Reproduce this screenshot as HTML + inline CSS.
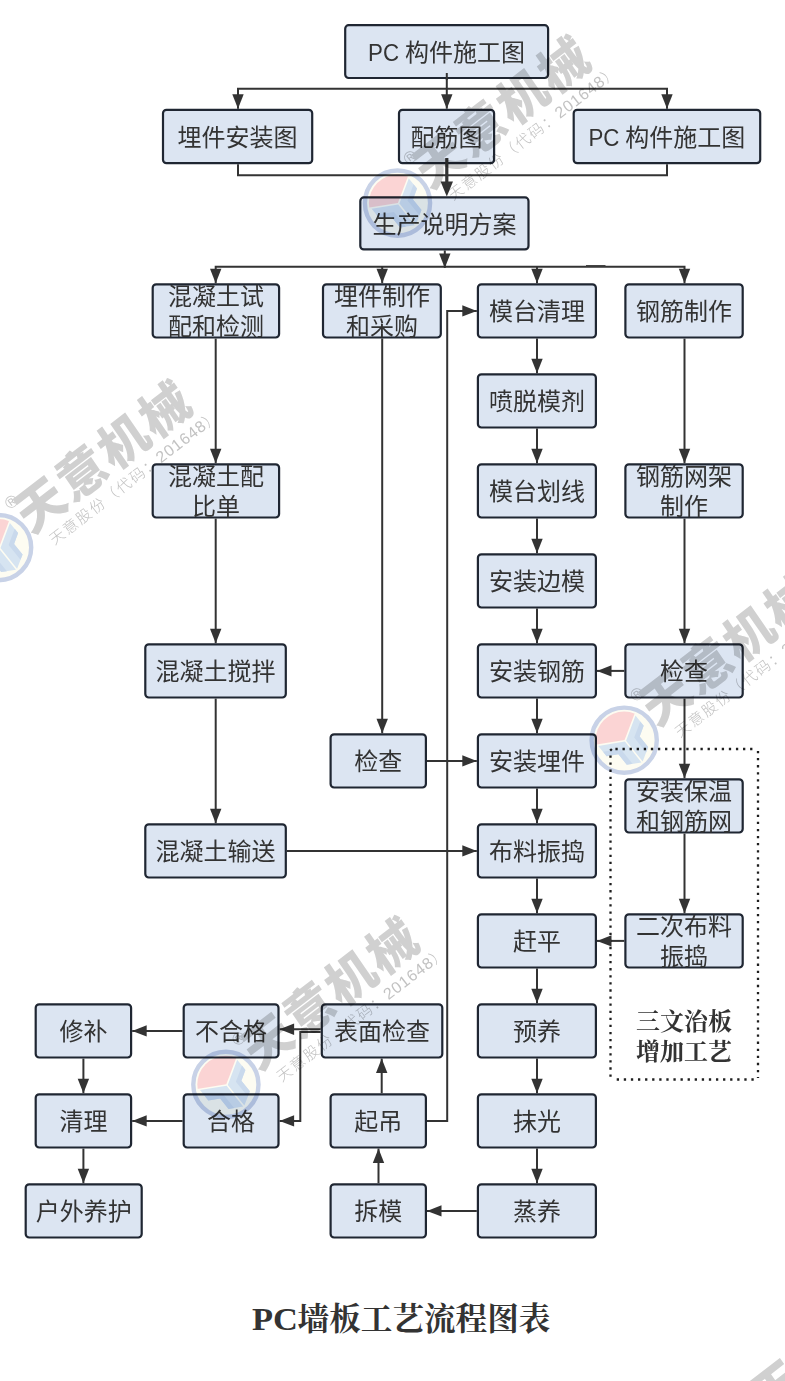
<!DOCTYPE html>
<html lang="zh-CN"><head><meta charset="utf-8"><title>PC墙板工艺流程图表</title>
<style>
html,body{margin:0;padding:0;background:#fff}
body{width:785px;height:1381px;overflow:hidden}
svg{display:block}
.bx rect{fill:#dce5f2;stroke:#1f2632;stroke-width:2.2}
.ln polyline{fill:none;stroke:#333;stroke-width:2;stroke-linejoin:miter}
.ar polygon{fill:#333}
.tx text{font-family:"Liberation Sans","Noto Sans CJK SC",sans-serif;font-size:24px;fill:#333;text-anchor:middle}
.sf{opacity:.999;font-family:"Liberation Serif","Noto Serif CJK SC",serif;font-weight:bold;fill:#333;text-anchor:middle}
.wm .big{font-family:"Liberation Sans","Noto Sans CJK SC",sans-serif;font-weight:900;font-size:50px;letter-spacing:2.2px;fill:#d0d0d0}
.wm .sm{font-family:"Liberation Sans","Noto Sans CJK SC",sans-serif;font-weight:300;font-size:15px;letter-spacing:1.8px;fill:#c2c2c2}
.wm .dg{font-size:16px;letter-spacing:.9px}
.wm .rg{font-family:"Liberation Sans",sans-serif;font-size:17px;fill:#c8c8c8}
</style></head><body>
<svg width="785" height="1381" viewBox="0 0 785 1381">
<defs>
<clipPath id="lc"><circle r="28.6"/></clipPath>
<g id="logo">
<circle r="32.6" fill="#fdfcf2" stroke="#c8d2e7" stroke-width="4.4"/>
<g clip-path="url(#lc)">
<polygon points="0.4,-0.1 14.2,-36.7 -10.0,-45.0 -45.0,-30.0 -38.2,6.0" fill="#fbd4d4"/>
<polygon points="1.9,0.5 11.3,-24.7 19.5,-14.5 15.5,-3.7 24.0,6.8 18.5,21.2" fill="#d6e4f1"/>
<polygon points="16.1,-18.8 19.5,-14.5 15.5,-3.7 24.0,6.8 21.9,12.2 10.0,-2.6" fill="#c9d9ec"/>
<polygon points="0.7,1.4 -25.9,5.7 -17.6,16.0 -5.8,14.1 2.6,24.5 17.3,22.2" fill="#d6e4f1"/>
<polygon points="-21.1,11.6 -17.6,16.0 -5.8,14.1 2.6,24.5 8.3,23.6 -3.6,8.8" fill="#c9d9ec"/>
</g>
</g>
</defs>

<g class="ln">
<polyline points="446.8,73 446.8,108.7"/>
<polyline points="446.8,88.7 238,88.7 238,108.7"/>
<polyline points="446.8,88.7 667,88.7 667,108.7"/>
<polyline points="238,164.3 238,175.3 667,175.3 667,164.3"/>
<polyline points="444.8,250.5 444.8,268"/>
<polyline points="215.7,283.2 215.7,266.7 684.5,266.7 684.5,283.2"/>
<polyline points="382.2,266.7 382.2,283.2"/>
<polyline points="537,266.7 537,283.2"/>
<polyline points="215.7,338.59999999999997 215.7,463.2"/>
<polyline points="215.7,518.6 215.7,643.1999999999999"/>
<polyline points="215.7,698.6 215.7,823.1999999999999"/>
<polyline points="286.9,850.9 476.8,850.9"/>
<polyline points="382.2,338.59999999999997 382.2,733.1999999999999"/>
<polyline points="427,760.9 476.8,760.9"/>
<polyline points="684.5,338.59999999999997 684.5,463.2"/>
<polyline points="684.5,518.6 684.5,643.1999999999999"/>
<polyline points="684.5,698.6 684.5,778.1999999999999"/>
<polyline points="684.5,833.6 684.5,913.1999999999999"/>
<polyline points="624.3,670.9 597,670.9"/>
<polyline points="624.3,940.9 597,940.9"/>
<polyline points="476.8,1210.9 427,1210.9"/>
<polyline points="378.5,1183.2 378.5,1148.6000000000001"/>
<polyline points="381.7,1093.2 381.7,1058.6000000000001"/>
<polyline points="427,1120.9 447.2,1120.9 447.2,310.9 476.8,310.9"/>
<polyline points="320.7,1029.3000000000002 279.6,1029.3000000000002"/>
<polyline points="320.7,1031.9 300.3,1031.9 300.3,1120.9 279.6,1120.9"/>
<polyline points="182.6,1030.9 132.2,1030.9"/>
<polyline points="182.6,1120.9 132.2,1120.9"/>
<polyline points="83.4,1058.6000000000001 83.4,1093.2"/>
<polyline points="83.4,1148.6000000000001 83.4,1183.2"/>
<polyline points="537,338.59999999999997 537,373.2"/>
<polyline points="537,428.59999999999997 537,463.2"/>
<polyline points="537,518.6 537,553.1999999999999"/>
<polyline points="537,608.6 537,643.1999999999999"/>
<polyline points="537,698.6 537,733.1999999999999"/>
<polyline points="537,788.6 537,823.1999999999999"/>
<polyline points="537,878.6 537,913.1999999999999"/>
<polyline points="537,968.6 537,1003.2"/>
<polyline points="537,1058.6000000000001 537,1093.2"/>
<polyline points="537,1148.6000000000001 537,1183.2"/>
</g>
<g fill="none" stroke="#1e1e1e" stroke-width="2.3" stroke-dasharray="2.3 4.79"><path d="M615.4,749 H756"/><path d="M610.5,755.4 V1078"/><path d="M610.2,750.6 L611.9,749.0"/><path d="M758,750.9 V1078"/><path d="M616.7,1079.5 H756"/></g>
<g class="bx">
<rect x="345.2" y="25.2" width="202.9" height="52.8" rx="3.5"/>
<rect x="163.0" y="109.8" width="149.2" height="53.4" rx="3.5"/>
<rect x="399.0" y="109.8" width="95.1" height="53.4" rx="3.5"/>
<rect x="573.7" y="109.8" width="186.5" height="53.4" rx="3.5"/>
<rect x="360.3" y="197.4" width="168.2" height="52.0" rx="3.5"/>
<rect x="152.7" y="284.3" width="126.4" height="53.2" rx="3.5"/>
<rect x="323.0" y="284.3" width="117.8" height="53.2" rx="3.5"/>
<rect x="477.9" y="284.3" width="118.0" height="53.2" rx="3.5"/>
<rect x="625.4" y="284.3" width="117.3" height="53.2" rx="3.5"/>
<rect x="477.9" y="374.3" width="118.0" height="53.2" rx="3.5"/>
<rect x="477.9" y="464.3" width="118.0" height="53.2" rx="3.5"/>
<rect x="477.9" y="554.3" width="118.0" height="53.2" rx="3.5"/>
<rect x="477.9" y="644.3" width="118.0" height="53.2" rx="3.5"/>
<rect x="477.9" y="734.3" width="118.0" height="53.2" rx="3.5"/>
<rect x="477.9" y="824.3" width="118.0" height="53.2" rx="3.5"/>
<rect x="477.9" y="914.3" width="118.0" height="53.2" rx="3.5"/>
<rect x="477.9" y="1004.3" width="118.0" height="53.2" rx="3.5"/>
<rect x="477.9" y="1094.3" width="118.0" height="53.2" rx="3.5"/>
<rect x="477.9" y="1184.3" width="118.0" height="53.2" rx="3.5"/>
<rect x="625.4" y="464.3" width="117.3" height="53.2" rx="3.5"/>
<rect x="625.4" y="644.3" width="117.3" height="53.2" rx="3.5"/>
<rect x="625.4" y="779.3" width="117.3" height="53.2" rx="3.5"/>
<rect x="625.4" y="914.3" width="117.3" height="53.2" rx="3.5"/>
<rect x="152.7" y="464.3" width="126.4" height="53.2" rx="3.5"/>
<rect x="145.3" y="644.3" width="140.5" height="53.2" rx="3.5"/>
<rect x="145.3" y="824.3" width="140.5" height="53.2" rx="3.5"/>
<rect x="330.6" y="734.3" width="95.3" height="53.2" rx="3.5"/>
<rect x="321.8" y="1004.3" width="120.5" height="53.2" rx="3.5"/>
<rect x="330.6" y="1094.3" width="95.3" height="53.2" rx="3.5"/>
<rect x="330.6" y="1184.3" width="95.3" height="53.2" rx="3.5"/>
<rect x="183.7" y="1004.3" width="94.8" height="53.2" rx="3.5"/>
<rect x="183.7" y="1094.3" width="94.8" height="53.2" rx="3.5"/>
<rect x="35.7" y="1004.3" width="95.4" height="53.2" rx="3.5"/>
<rect x="35.7" y="1094.3" width="95.4" height="53.2" rx="3.5"/>
<rect x="25.7" y="1184.3" width="116.0" height="53.2" rx="3.5"/>
</g>
<g class="ar">
<polygon points="446.8,108.7 441.1,94.2 452.5,94.2"/>
<polygon points="238.0,108.7 232.3,94.2 243.7,94.2"/>
<polygon points="667.0,108.7 661.3,94.2 672.7,94.2"/>
<polygon points="444.8,268.0 439.1,253.5 450.5,253.5"/>
<polygon points="684.5,283.2 678.8,268.7 690.2,268.7"/>
<polygon points="215.7,283.2 210.0,268.7 221.4,268.7"/>
<polygon points="382.2,283.2 376.5,268.7 387.9,268.7"/>
<polygon points="537.0,283.2 531.3,268.7 542.7,268.7"/>
<polygon points="215.7,463.2 210.0,448.7 221.4,448.7"/>
<polygon points="215.7,643.2 210.0,628.7 221.4,628.7"/>
<polygon points="215.7,823.2 210.0,808.7 221.4,808.7"/>
<polygon points="476.8,850.9 462.3,856.6 462.3,845.2"/>
<polygon points="382.2,733.2 376.5,718.7 387.9,718.7"/>
<polygon points="476.8,760.9 462.3,766.6 462.3,755.2"/>
<polygon points="684.5,463.2 678.8,448.7 690.2,448.7"/>
<polygon points="684.5,643.2 678.8,628.7 690.2,628.7"/>
<polygon points="684.5,778.2 678.8,763.7 690.2,763.7"/>
<polygon points="684.5,913.2 678.8,898.7 690.2,898.7"/>
<polygon points="597.0,670.9 611.5,665.2 611.5,676.6"/>
<polygon points="597.0,940.9 611.5,935.2 611.5,946.6"/>
<polygon points="427.0,1210.9 441.5,1205.2 441.5,1216.6"/>
<polygon points="378.5,1148.6 384.2,1163.1 372.8,1163.1"/>
<polygon points="381.7,1058.6 387.4,1073.1 376.0,1073.1"/>
<polygon points="476.8,310.9 462.3,316.6 462.3,305.2"/>
<polygon points="279.6,1029.3 294.1,1023.6 294.1,1035.0"/>
<polygon points="279.6,1120.9 294.1,1115.2 294.1,1126.6"/>
<polygon points="132.2,1030.9 146.7,1025.2 146.7,1036.6"/>
<polygon points="132.2,1120.9 146.7,1115.2 146.7,1126.6"/>
<polygon points="83.4,1093.2 77.7,1078.7 89.1,1078.7"/>
<polygon points="83.4,1183.2 77.7,1168.7 89.1,1168.7"/>
<polygon points="537.0,373.2 531.3,358.7 542.7,358.7"/>
<polygon points="537.0,463.2 531.3,448.7 542.7,448.7"/>
<polygon points="537.0,553.2 531.3,538.7 542.7,538.7"/>
<polygon points="537.0,643.2 531.3,628.7 542.7,628.7"/>
<polygon points="537.0,733.2 531.3,718.7 542.7,718.7"/>
<polygon points="537.0,823.2 531.3,808.7 542.7,808.7"/>
<polygon points="537.0,913.2 531.3,898.7 542.7,898.7"/>
<polygon points="537.0,1003.2 531.3,988.7 542.7,988.7"/>
<polygon points="537.0,1093.2 531.3,1078.7 542.7,1078.7"/>
<polygon points="537.0,1183.2 531.3,1168.7 542.7,1168.7"/>
</g>
<path d="M586,265.7 H605.5" stroke="#444" stroke-width="1.4" fill="none"/>
<g class="ln"><polyline points="446.8,73 446.8,80"/><polyline points="446.8,158 446.8,190" style="stroke-width:3.2"/></g>
<g class="ar"><polygon points="446.8,196.6 440.6,181.4 453,181.4"/></g>
<g class="tx" opacity=".999">
<text transform="translate(368.1,60.9) scale(.93,1.02)" style="text-anchor:start">PC</text>
<text x="405.0" y="60.9" style="text-anchor:start">构件施工图</text>
<text x="237.6" y="145.8">埋件安装图</text>
<text x="446.5" y="145.8">配筋图</text>
<text transform="translate(588.4,145.8) scale(.93,1.02)" style="text-anchor:start">PC</text>
<text x="625.2" y="145.8" style="text-anchor:start">构件施工图</text>
<text x="444.4" y="232.7">生产说明方案</text>
<text x="215.9" y="305.2">混凝土试</text>
<text x="215.9" y="335.2">配和检测</text>
<text x="381.9" y="305.2">埋件制作</text>
<text x="381.9" y="335.2">和采购</text>
<text x="536.9" y="320.2">模台清理</text>
<text x="684.0" y="320.2">钢筋制作</text>
<text x="536.9" y="410.2">喷脱模剂</text>
<text x="536.9" y="500.2">模台划线</text>
<text x="536.9" y="590.2">安装边模</text>
<text x="536.9" y="680.2">安装钢筋</text>
<text x="536.9" y="770.2">安装埋件</text>
<text x="536.9" y="860.2">布料振捣</text>
<text x="536.9" y="950.2">赶平</text>
<text x="536.9" y="1040.2">预养</text>
<text x="536.9" y="1130.2">抹光</text>
<text x="536.9" y="1220.2">蒸养</text>
<text x="684.0" y="485.2">钢筋网架</text>
<text x="684.0" y="515.2">制作</text>
<text x="684.0" y="680.2">检查</text>
<text x="684.0" y="800.2">安装保温</text>
<text x="684.0" y="830.2">和钢筋网</text>
<text x="684.0" y="935.2">二次布料</text>
<text x="684.0" y="965.2">振捣</text>
<text x="215.9" y="485.2">混凝土配</text>
<text x="215.9" y="515.2">比单</text>
<text x="215.5" y="680.2">混凝土搅拌</text>
<text x="215.5" y="860.2">混凝土输送</text>
<text x="378.2" y="770.2">检查</text>
<text x="382.0" y="1040.2">表面检查</text>
<text x="378.2" y="1130.2">起吊</text>
<text x="378.2" y="1220.2">拆模</text>
<text x="231.1" y="1040.2">不合格</text>
<text x="231.1" y="1130.2">合格</text>
<text x="83.4" y="1040.2">修补</text>
<text x="83.4" y="1130.2">清理</text>
<text x="83.7" y="1220.2">户外养护</text>
</g>
<text class="sf" x="684" y="1029.5" font-size="24">三文治板</text>
<text class="sf" x="684" y="1059.5" font-size="24">增加工艺</text>
<text class="sf" transform="translate(252,1330.3) scale(1.09,1)" font-size="31.6" style="text-anchor:start">PC</text>
<text class="sf" x="297.6" y="1330.3" font-size="31.6" style="text-anchor:start">墙板工艺流程图表</text>
<g class="wm" style="mix-blend-mode:multiply">
<g transform="translate(397.5,203.1)"><use href="#logo"/><text class="rg" transform="translate(12.6,-46) rotate(-37.5)" text-anchor="middle" y="6">®</text><g transform="translate(50,-45) rotate(-37.5) skewX(-3)"><text class="big" x="-33" y="15">天意机械</text></g><g transform="translate(50,-45) rotate(-37.5)"><text class="sm" x="-21.4" y="37.5">天意股份（代码：<tspan class="dg">201648</tspan>）</text></g></g>
<g transform="translate(-1.4,547.6)"><use href="#logo"/><text class="rg" transform="translate(12.6,-46) rotate(-37.5)" text-anchor="middle" y="6">®</text><g transform="translate(50,-45) rotate(-37.5) skewX(-3)"><text class="big" x="-33" y="15">天意机械</text></g><g transform="translate(50,-45) rotate(-37.5)"><text class="sm" x="-21.4" y="37.5">天意股份（代码：<tspan class="dg">201648</tspan>）</text></g></g>
<g transform="translate(624.2,740.2)"><use href="#logo"/><text class="rg" transform="translate(12.6,-46) rotate(-37.5)" text-anchor="middle" y="6">®</text><g transform="translate(50,-45) rotate(-37.5) skewX(-3)"><text class="big" x="-33" y="15">天意机械</text></g><g transform="translate(50,-45) rotate(-37.5)"><text class="sm" x="-21.4" y="37.5">天意股份（代码：<tspan class="dg">201648</tspan>）</text></g></g>
<g transform="translate(225.9,1084.4)"><use href="#logo"/><text class="rg" transform="translate(12.6,-46) rotate(-37.5)" text-anchor="middle" y="6">®</text><g transform="translate(50,-45) rotate(-37.5) skewX(-3)"><text class="big" x="-33" y="15">天意机械</text></g><g transform="translate(50,-45) rotate(-37.5)"><text class="sm" x="-21.4" y="37.5">天意股份（代码：<tspan class="dg">201648</tspan>）</text></g></g>
<g transform="translate(734.5,1430.5)"><use href="#logo"/><g transform="translate(50,-45) rotate(-37.5) skewX(-3)"><text class="big" x="-33" y="15">天意机械</text></g><g transform="translate(50,-45) rotate(-37.5)"><text class="sm" x="-21.4" y="37.5">天意股份（代码：<tspan class="dg">201648</tspan>）</text></g></g>
</g>
</svg></body></html>
